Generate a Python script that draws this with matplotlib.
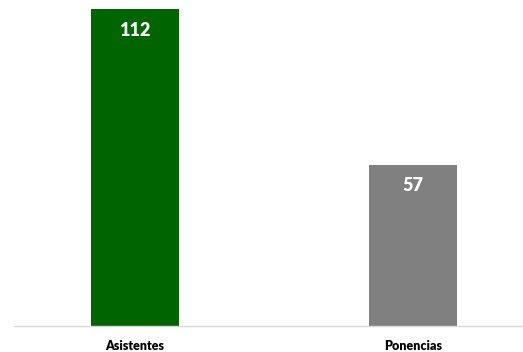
import matplotlib.pyplot as plt

categories = ["Asistentes", "Ponencias"]
values = [112, 57]
colors = ["#006400", "#808080"]

fig = plt.figure(figsize=(5.23, 3.52), dpi=100)
# axes placed to match the reference layout (pixels -> figure fraction)
ax = fig.add_axes([14 / 523, 26 / 352, 509 / 523, (326 - 9.3) / 352])

x = list(range(len(categories)))
bars = ax.bar(x, values, width=0.317, color=colors, zorder=2)

for b, v in zip(bars, values):
    ax.annotate(str(v), (b.get_x() + b.get_width() / 2, v),
                xytext=(0, -15), textcoords="offset points",
                ha="center", va="center", color="white",
                fontsize=13, fontweight="heavy", family="Lato")

ax.set_xlim(-0.4357, 1.397)
ax.set_ylim(0, 112)
ax.set_xticks(x)
ax.set_xticklabels(categories, fontsize=9, fontweight="heavy", family="Lato")
ax.tick_params(axis="x", length=0, pad=10)
ax.set_yticks([])
for s in ["top", "right", "left"]:
    ax.spines[s].set_visible(False)
ax.spines["bottom"].set_color("#d9d9d9")
ax.spines["bottom"].set_linewidth(1)

fig.savefig("out.png", dpi=100)
